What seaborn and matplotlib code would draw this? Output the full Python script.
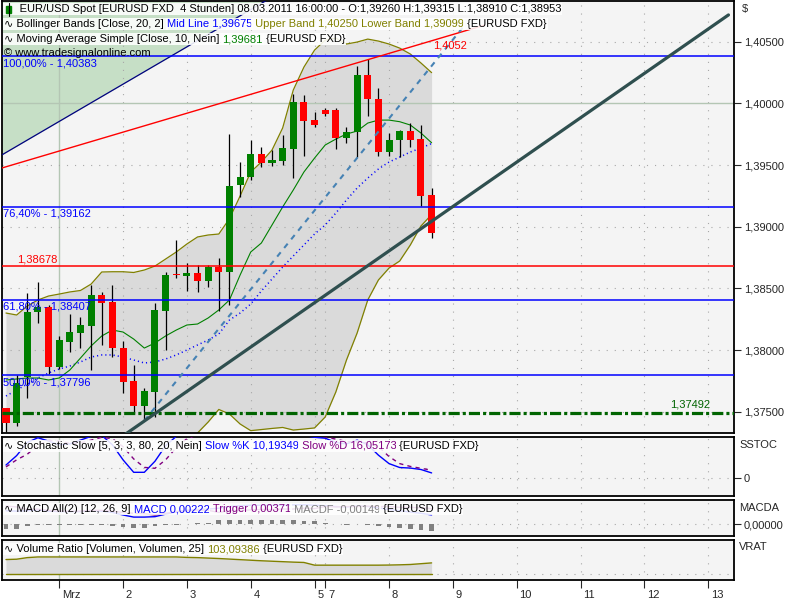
import numpy as np
import pandas as pd
import seaborn as sns
import matplotlib
matplotlib.use("Agg")
import matplotlib.pyplot as plt
from matplotlib.patches import Rectangle
from matplotlib.lines import Line2D
from matplotlib.transforms import IdentityTransform, ScaledTranslation

sns.set_style("white")
plt.rcParams["font.family"] = ["Liberation Sans", "DejaVu Sans"]
plt.rcParams["font.size"] = 8
plt.rcParams["lines.scale_dashes"] = False

# EUR/USD 4h candles, 28.02.2011 - 08.03.2011 16:00
opens = [1.37527, 1.37411, 1.37784, 1.38311, 1.38346, 1.37865, 1.38067, 1.38140, 1.38195, 1.38446,
         1.38392, 1.38014, 1.37749, 1.37548, 1.37662, 1.38319, 1.38614, 1.38603, 1.38627, 1.38562,
         1.38676, 1.38635, 1.39338, 1.39401, 1.39590, 1.39519, 1.39535, 1.39630, 1.40014, 1.39865,
         1.39947, 1.39947, 1.39722, 1.39771, 1.40230, 1.40033, 1.39608, 1.39703, 1.39779, 1.39711,
         1.39260]
highs = [1.37527, 1.37797, 1.38462, 1.38554, 1.38365, 1.38114, 1.38292, 1.38265, 1.38527, 1.38473,
         1.38527, 1.38073, 1.37878, 1.37690, 1.38384, 1.38635, 1.38892, 1.38703, 1.38690, 1.38690,
         1.38744, 1.39752, 1.39527, 1.39703, 1.39644, 1.39622, 1.39744, 1.40076, 1.40068, 1.39933,
         1.39965, 1.39960, 1.39811, 1.40303, 1.40358, 1.40123, 1.39758, 1.39785, 1.39841, 1.39825,
         1.39315]
lows = [1.37338, 1.37384, 1.37608, 1.38222, 1.37806, 1.37844, 1.37986, 1.38014, 1.37838, 1.38041,
        1.37946, 1.37654, 1.37492, 1.37427, 1.37459, 1.38000, 1.38582, 1.38479, 1.38473, 1.38509,
        1.38319, 1.38365, 1.39239, 1.39379, 1.39482, 1.39492, 1.39500, 1.39393, 1.39573, 1.39811,
        1.39898, 1.39628, 1.39676, 1.39563, 1.39898, 1.39576, 1.39576, 1.39568, 1.39644, 1.39170,
        1.38910]
closes = [1.37411, 1.37730, 1.38311, 1.38346, 1.37865, 1.38081, 1.38149, 1.38203, 1.38446, 1.38384,
          1.38014, 1.37743, 1.37546, 1.37668, 1.38325, 1.38608, 1.38612, 1.38627, 1.38562, 1.38676,
          1.38635, 1.39330, 1.39406, 1.39590, 1.39514, 1.39541, 1.39636, 1.40014, 1.39857, 1.39825,
          1.39914, 1.39722, 1.39771, 1.40230, 1.40033, 1.39608, 1.39703, 1.39779, 1.39703, 1.39252,
          1.38953]

# Bollinger Bands (20, 2) and SMA 10
bb_upper = [1.38300, 1.38284, 1.38357, 1.38406, 1.38438, 1.38454, 1.38471, 1.38483, 1.38535, 1.38633,
            1.38635, 1.38635, 1.38629, 1.38649, 1.38681, 1.38738, 1.38795, 1.38860, 1.38917, 1.38933,
            1.38941, 1.39065, 1.39249, 1.39444, 1.39525, 1.39622, 1.39801, 1.40109, 1.40295, 1.40433,
            1.40514, 1.40530, 1.40482, 1.40498, 1.40522, 1.40506, 1.40482, 1.40449, 1.40401, 1.40328,
            1.40250]
bb_lower = [1.36954, 1.37067, 1.37092, 1.37140, 1.37189, 1.37238, 1.37270, 1.37303, 1.37303, 1.37286,
            1.37286, 1.37254, 1.37213, 1.37140, 1.37124, 1.37116, 1.37124, 1.37157, 1.37327, 1.37416,
            1.37518, 1.37481, 1.37400, 1.37346, 1.37355, 1.37364, 1.37372, 1.37351, 1.37359, 1.37368,
            1.37457, 1.37660, 1.37919, 1.38138, 1.38406, 1.38568, 1.38665, 1.38722, 1.38852, 1.39006,
            1.39099]
bb_mid = [1.37627, 1.37676, 1.37724, 1.37773, 1.37814, 1.37846, 1.37870, 1.37903, 1.37943, 1.37960,
          1.37960, 1.37943, 1.37919, 1.37895, 1.37903, 1.37927, 1.37960, 1.38000, 1.38041, 1.38081,
          1.38130, 1.38243, 1.38300, 1.38373, 1.38479, 1.38576, 1.38673, 1.38763, 1.38852, 1.38941,
          1.39014, 1.39111, 1.39217, 1.39314, 1.39395, 1.39468, 1.39525, 1.39565, 1.39606, 1.39638,
          1.39675]
sma10 = [1.37757, 1.37765, 1.37773, 1.37773, 1.37757, 1.37773, 1.37838, 1.37935, 1.38033, 1.38114,
         1.38162, 1.38146, 1.38089, 1.38016, 1.38057, 1.38114, 1.38162, 1.38203, 1.38211, 1.38260,
         1.38325, 1.38406, 1.38608, 1.38795, 1.38868, 1.39014, 1.39160, 1.39298, 1.39444, 1.39557,
         1.39663, 1.39711, 1.39752, 1.39776, 1.39841, 1.39865, 1.39865, 1.39852, 1.39825, 1.39760,
         1.39681]

# Stochastic Slow
slow_k = [27, 47, 75, 85, 78, 70, 72, 80, 88, 90, 70, 38, 11.5, 11.5, 35, 68, 88, 93, 92, 92,
          90, 93, 95, 96, 94, 92, 93, 95, 90, 86, 84, 75, 72, 80, 70, 48, 30, 21.7, 20.5, 17.46,
          10.19349]
slow_d = [23, 38, 50, 69, 79, 78, 73, 74, 80, 86, 83, 66, 40, 22, 20, 38, 64, 83, 91, 92,
          91, 92, 93, 95, 95, 94, 93, 93, 93, 90, 87, 82, 77, 76, 74, 66, 45, 30, 24, 20,
          16.05173]
stoch_levels = [20, 80]

# MACD (12, 26, 9)
macd = [0.0032, 0.0031, 0.0032, 0.0034, 0.0031, 0.0030, 0.0030, 0.0030, 0.0032, 0.0031,
        0.0028, 0.0022, 0.0017, 0.0017, 0.0018, 0.0024, 0.0029, 0.0033, 0.0035, 0.0036,
        0.0038, 0.0042, 0.0044, 0.0045, 0.0045, 0.0045, 0.0045, 0.0046, 0.0046, 0.0045,
        0.0044, 0.0042, 0.0041, 0.0043, 0.0042, 0.0039, 0.0035, 0.0032, 0.0029, 0.0026,
        0.00222]
trigger = [0.0043, 0.0041, 0.0035, 0.0036, 0.0033, 0.0031, 0.0031, 0.0031, 0.0033, 0.0033,
           0.0031, 0.0028, 0.0026, 0.0025, 0.0022, 0.0026, 0.0030, 0.0032, 0.0033, 0.0033,
           0.0028, 0.0032, 0.0033, 0.0034, 0.0035, 0.0035, 0.0036, 0.0036, 0.0038, 0.0037,
           0.0042, 0.0041, 0.0042, 0.0042, 0.0043, 0.0042, 0.0042, 0.0040, 0.0040, 0.0039,
           0.00371]
macdf = [-0.0011, -0.0010, -0.0003, -0.0002, -0.0002, -0.0001, -0.0001, -0.0001, -0.0001, -0.0002,
         -0.0003, -0.0006, -0.0009, -0.0008, -0.0004, -0.0002, -0.0001, 0.0001, 0.0002, 0.0003,
         0.0010, 0.0010, 0.0011, 0.0011, 0.0010, 0.0010, 0.0009, 0.0010, 0.0008, 0.0008,
         0.0002, 0.0001, -0.0001, 0.0001, -0.0001, -0.0003, -0.0007, -0.0008, -0.0011, -0.0013,
         -0.00149]

# Volume Ratio (25)
vrat = [133, 136, 150, 156, 156, 156, 156, 156, 156, 156, 156, 156, 156, 156, 156, 156, 156, 152, 150, 146,
        142, 137, 132, 127, 122, 118, 114, 110, 107, 83, 83, 83, 83, 83, 83, 83, 84, 86, 89, 96,
        103.09386]

# drawing tools
fib_levels = [1.40383, 1.39162, 1.38407, 1.37796]
fib_labels = ["100,00% - 1,40383", "76,40% - 1,39162", "61,80% - 1,38407", "50,00% - 1,37796"]
res_level = 1.38678
sup_level = 1.37492
trend_x, trend_y = [11, 67.9], [1.37304, 1.40718]
red_x, red_y = [-0.6, 45], [1.39471, 1.40636]
dash_x, dash_y = [13, 43], [1.37427, 1.40624]
fan_x, fan_y = [-0.4, 24.6], [1.39582, 1.40842]

day_ticks = [5, 11, 17, 23, 29, 30, 36, 42, 48, 54, 60, 66]
day_labels = ["Mrz", "2", "3", "4", "5", "7", "8", "9", "10", "11", "12", "13"]
price_ticks = [1.375, 1.380, 1.385, 1.390, 1.395, 1.400, 1.405]

idx = np.arange(len(closes))
df = pd.DataFrame({"i": idx, "o": opens, "h": highs, "l": lows, "c": closes})

BG = "#f4f4f4"
OLIVE = "#808000"
DOT = (0, (0.8, 5))

fig = plt.figure(figsize=(8, 6), dpi=100)
fig.patch.set_facecolor("white")


def panel(top, bottom):
    a = fig.add_axes([2 / 800, 1 - bottom / 600, 732 / 800, (bottom - top) / 600])
    a.set_facecolor(BG)
    a.set_xlim(-0.376, 68.42)
    for s in a.spines.values():
        s.set_color("black")
        s.set_linewidth(1.3)
    a.tick_params(axis="x", bottom=False, labelbottom=False)
    a.tick_params(axis="y", left=False, labelleft=False)
    for t, lab in zip(day_ticks, day_labels):
        if lab == "Mrz":
            a.axvline(t, color="#b4c6b4", lw=1, zorder=1)
        else:
            a.axvline(t, color="#a8a8a8", lw=0.8, ls=DOT, zorder=1)
    return a


ax = panel(1, 433)
ax_st = panel(437, 496)
ax_md = panel(500, 536)
ax_vr = panel(540, 580)

# ---------------- main price panel
ax.set_ylim(1.37327, 1.40831)
ytop = ax.get_ylim()[1]
ax.fill_between(idx, bb_lower, bb_upper, color="#dadada", lw=0, zorder=0.5)
ax.fill_between(fan_x, fan_y, ytop, color="#c6dfc6", lw=0, zorder=0.6)
ax.plot(fan_x, fan_y, color="#000080", lw=0.9, zorder=3)
for p in price_ticks:
    if p == 1.400:
        ax.axhline(p, color="#b4c6b4", lw=1, zorder=1)
    else:
        ax.axhline(p, color="#a8a8a8", lw=0.8, ls=DOT, zorder=1)

sns.lineplot(x=idx, y=bb_upper, ax=ax, color=OLIVE, lw=0.9, zorder=2)
sns.lineplot(x=idx, y=bb_lower, ax=ax, color=OLIVE, lw=0.9, zorder=2)
sns.lineplot(x=idx, y=bb_mid, ax=ax, color="#0000ff", lw=1.1, linestyle=(0, (0.8, 2.2)), zorder=2)
sns.lineplot(x=idx, y=sma10, ax=ax, color="#008000", lw=0.8, zorder=2)

up = df.c >= df.o
body_bottom = np.minimum(df.o, df.c)
body_h = np.maximum(np.abs(df.c - df.o), 0.00002)
ax.vlines(df.i, df.l, df.h, color="black", lw=0.9, zorder=4)
ax.bar(df.i, body_h, bottom=body_bottom, width=0.66,
       color=np.where(up, "#008000", "#ff0000"), lw=0, zorder=5)

ytrans = ax.get_yaxis_transform()
for lvl, lab in zip(fib_levels, fib_labels):
    ax.axhline(lvl, color="#0000ff", lw=1.1, zorder=6)
    ax.annotate(lab, xy=(0, lvl), xycoords=ytrans, xytext=(1, -1.5), textcoords="offset points",
                color="#0000ff", va="top", ha="left", zorder=8)
ax.axhline(res_level, color="#ff0000", lw=1.1, zorder=6)
ax.annotate("1,38678", xy=(0.021, res_level), xycoords=ytrans, xytext=(0, 1.5),
            textcoords="offset points", color="#ff0000", va="bottom", ha="left", zorder=8)
ax.axhline(sup_level, color="#006400", lw=2.3, dashes=(8, 2.2, 2.2, 2.2), zorder=6)
ax.annotate("1,37492", xy=(62.4, sup_level), xytext=(0, 2), textcoords="offset points",
            color="#006400", va="bottom", ha="left", zorder=8)

ax.plot(red_x, red_y, color="#ff0000", lw=1.0, zorder=6)
ax.plot(dash_x, dash_y, color="#4682b4", lw=1.5, dashes=(4, 4), zorder=6)
ax.plot(trend_x, trend_y, color="#2f4f4f", lw=2.3, zorder=7)
ax.text(40.1, 1.40466, "1,4052", color="#ff0000", va="center", ha="left", zorder=8)

ax.yaxis.tick_right()
ax.set_yticks(price_ticks)
ax.set_yticklabels([f"{p:.5f}".replace(".", ",") for p in price_ticks])
ax.tick_params(axis="y", right=True, labelright=True, direction="out", length=5, width=0.8, pad=2)
ax.set_xlabel("")
ax.set_ylabel("")


def label_row(a, x, y, parts, box=True):
    prev = None
    for txt, col in parts:
        bb = dict(boxstyle="square,pad=0.08", fc="white", ec="none", alpha=0.88) if box else None
        if prev is None:
            prev = a.annotate(txt, xy=(x, 600 - y), xycoords="figure pixels", color=col,
                              ha="left", va="center", bbox=bb, zorder=20)
        else:
            prev = a.annotate(txt, xy=(1, 0), xycoords=prev, color=col,
                              ha="left", va="bottom", bbox=bb, zorder=20)
    return prev


label_row(ax, 4, 9, [("     EUR/USD Spot [EURUSD FXD  4 Stunden] 08.03.2011 16:00:00 - "
                      "O:1,39260 H:1,39315 L:1,38910 C:1,38953", "black")])
label_row(ax, 4, 24, [("∿ Bollinger Bands [Close, 20, 2] ", "black"), ("Mid Line 1,39675", "#0000ff"),
                      (" Upper Band 1,40250 Lower Band 1,39099", OLIVE), (" {EURUSD FXD}", "black")])
label_row(ax, 4, 39, [("∿ Moving Average Simple [Close, 10, Nein] ", "black"), ("1,39681", "#008000"),
                      (" {EURUSD FXD}", "black")])
label_row(ax, 4, 53, [("© www.tradesignalonline.com", "black")], box=False)

# small candle icon in front of the header line
fig.add_artist(Line2D([8.5, 8.5], [600 - 3, 600 - 16], transform=IdentityTransform(), color="black", lw=0.8))
fig.add_artist(Rectangle((6, 600 - 13), 5, 7, transform=IdentityTransform(), color="#008000"))

# ---------------- stochastic
ax_st.set_ylim(-38.9, 86.6)
ax_st.axhline(0, color="#a8a8a8", lw=0.8, ls=DOT, zorder=1)
for lv in stoch_levels:
    ax_st.plot([idx[0], idx[-1]], [lv, lv], color="#a8a8a8", lw=0.8, ls=DOT, zorder=1)
sns.lineplot(x=idx, y=slow_k, ax=ax_st, color="#0000ff", lw=1.0, zorder=3)
sns.lineplot(x=idx, y=slow_d, ax=ax_st, color="#800080", lw=1.0, linestyle=(0, (3, 3)), zorder=3)
ax_st.yaxis.tick_right()
ax_st.set_yticks([0])
ax_st.set_yticklabels(["0"])
ax_st.tick_params(axis="y", right=True, labelright=True, direction="out", length=5, width=0.8, pad=2)
label_row(ax_st, 4, 446, [("∿ Stochastic Slow [5, 3, 3, 80, 20, Nein] ", "black"),
                          ("Slow %K 10,19349", "#0000ff"), (" Slow %D 16,05173", "#800080"),
                          (" {EURUSD FXD}", "black")])

# ---------------- MACD
ax_md.set_ylim(-0.00277, 0.00574)
ax_md.axhline(0, color="#a8a8a8", lw=0.8, ls=DOT, zorder=1)
ax_md.bar(idx, macdf, width=0.45, color="#808080", lw=0, zorder=2)
sns.lineplot(x=idx, y=macd, ax=ax_md, color="#0000ff", lw=1.0, zorder=3)
sns.lineplot(x=idx, y=trigger, ax=ax_md, color="#800080", lw=1.0, zorder=3)
ax_md.yaxis.tick_right()
ax_md.set_yticks([0])
ax_md.set_yticklabels(["0,00000"])
ax_md.tick_params(axis="y", right=True, labelright=True, direction="out", length=5, width=0.8, pad=2)
label_row(ax_md, 4, 509, [("∿ MACD All(2) [12, 26, 9] ", "black"), ("MACD 0,00222", "#0000ff"),
                          (" Trigger 0,00371", "#800080"), (" MACDF -0,00149", "#808080"),
                          (" {EURUSD FXD}", "black")])

# ---------------- Volume ratio
ax_vr.set_ylim(-48.9, 306.7)
ax_vr.axhline(0, color="#a8a8a8", lw=0.8, ls=DOT, zorder=1)
ax_vr.fill_between(idx, vrat, 0, color="#dadada", lw=0, zorder=1.5)
sns.lineplot(x=idx, y=vrat, ax=ax_vr, color=OLIVE, lw=1.0, zorder=3)
sns.lineplot(x=idx, y=np.zeros(len(idx)), ax=ax_vr, color=OLIVE, lw=1.0, zorder=3)
label_row(ax_vr, 4, 549, [("∿ Volume Ratio [Volumen, Volumen, 25] ", "black"), ("103,09386", OLIVE),
                          (" {EURUSD FXD}", "black")])

ax_vr.set_xticks(day_ticks)
ax_vr.set_xticklabels(day_labels)
ax_vr.tick_params(axis="x", bottom=True, labelbottom=True, direction="out", length=6, width=0.8, pad=1)
shift = ScaledTranslation(2 / 72, 0, fig.dpi_scale_trans)
for lab in ax_vr.get_xticklabels():
    lab.set_horizontalalignment("left")
    lab.set_transform(lab.get_transform() + shift)

for a in (ax, ax_st, ax_md, ax_vr):
    a.set_xlabel("")
    a.set_ylabel("")

fig.text(742 / 800, 1 - 9 / 600, "$", va="center", ha="left")
fig.text(739 / 800, 1 - 445 / 600, "SSTOC", va="center", ha="left")
fig.text(739 / 800, 1 - 508 / 600, "MACDA", va="center", ha="left")
fig.text(739 / 800, 1 - 547 / 600, "VRAT", va="center", ha="left")

fig.savefig("out.png", dpi=100)
